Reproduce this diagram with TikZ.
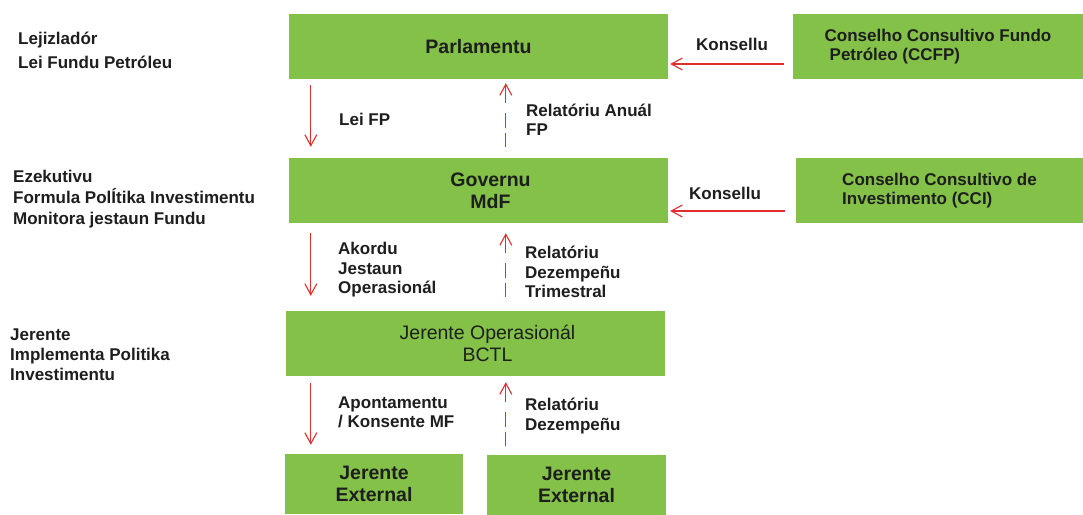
\documentclass[tikz,border=0pt]{standalone}
\usepackage{fontspec}
\setmainfont{Liberation Sans}
\usetikzlibrary{arrows.meta}
\definecolor{boxgreen}{RGB}{131,193,72}
\definecolor{arrred}{RGB}{226,45,45}
\definecolor{txt}{RGB}{30,30,30}
\begin{document}
\begin{tikzpicture}[x=1pt,y=-1pt,
 box/.style={fill=boxgreen,draw=none,inner sep=0pt,align=center,text=txt,font=\fontsize{19.5}{22}\selectfont\bfseries},
 sidebox/.style={box,align=left,font=\fontsize{17}{19.5}\selectfont\bfseries},
 lbl/.style={inner sep=0pt,align=left,anchor=west,text=txt,font=\fontsize{17}{19.5}\selectfont\bfseries},
 arr/.style={draw=arrred,line width=1.1pt,-{Straight Barb[length=11pt,width=12pt,line width=1.1pt]}},
 darr/.style={arr,dash pattern=on 14pt off 5pt on 15pt off 10pt on 40pt}]
\useasboundingbox (0,0) rectangle (1083,514);
\fill[white] (0,0) rectangle (1083,514);

% boxes
\node[box,minimum width=379pt,minimum height=65pt] (parl) at (478.5,46.5) {Parlamentu};
\node[box,minimum width=379pt,minimum height=65pt] (gov) at (478.5,190.5) {\hspace*{24pt}Governu\\\hspace*{24pt}MdF};
\node[box,minimum width=379pt,minimum height=65pt,font=\fontsize{19.5}{22}\selectfont\mdseries] (jop) at (475.5,343.5) {\hspace*{24pt}Jerente Operasionál\\\hspace*{24pt}BCTL};
\node[box,minimum width=178pt,minimum height=60pt] (ext1) at (374,484) {Jerente\\External};
\node[box,minimum width=179pt,minimum height=60pt] (ext2) at (576.5,484.5) {Jerente\\External};
\node[sidebox,minimum width=290pt,minimum height=65pt] (ccfp) at (938,46.5) {Conselho Consultivo Fundo\\\hspace*{5pt}Petróleo (CCFP)};
\node[sidebox,minimum width=287pt,minimum height=65pt] (cci) at (939.5,190.5) {Conselho Consultivo de\\Investimento (CCI)};

% left labels
\node[lbl,font=\fontsize{17}{24}\selectfont\bfseries] (l1) at (18,50) {Lejizladór\\Lei Fundu Petróleu};
\node[lbl,font=\fontsize{17}{21}\selectfont\bfseries] (l2) at (13,199) {Ezekutivu\\Formula PolÍtika Investimentu\\Monitora jestaun Fundu};
\node[lbl,font=\fontsize{17}{20}\selectfont\bfseries] (l3) at (10,355) {Jerente\\Implementa Politika\\Investimentu};

% horizontal arrows
\draw[arr] ([xshift=-9pt,yshift=-17.5pt]ccfp.west) -- ([xshift=2pt,yshift=-17.5pt]parl.east);
\node[lbl,anchor=center] (k1) at (732,44) {Konsellu};
\draw[arr] ([xshift=-11pt,yshift=-20.5pt]cci.west) -- ([xshift=2pt,yshift=-20.5pt]gov.east);
\node[lbl,anchor=center] (k2) at (725,193) {Konsellu};

% row 1
\draw[arr] ([xshift=22pt,yshift=-6pt]parl.south west) -- ([xshift=22pt,yshift=11pt]gov.north west);
\draw[darr] ([xshift=217pt,yshift=11pt]gov.north west) -- ([xshift=217pt,yshift=-4pt]parl.south west);
\node[lbl] (t1) at (339,119) {Lei FP};
\node[lbl] (t2) at (526,120) {Relatóriu Anuál\\FP};

% row 2
\draw[arr] ([xshift=22pt,yshift=-10pt]gov.south west) -- ([xshift=25pt,yshift=15pt]jop.north west);
\draw[darr] ([xshift=220pt,yshift=14pt]jop.north west) -- ([xshift=217pt,yshift=-10pt]gov.south west);
\node[lbl] (t3) at (338,270) {Akordu\\Jestaun\\Operasionál};
\node[lbl] (t4) at (525,272) {Relatóriu\\Dezempeñu\\Trimestral};

% row 3
\draw[arr] ([xshift=25pt,yshift=-7pt]jop.south west) -- ([xshift=26pt,yshift=9pt]ext1.north west);
\draw[darr] ([xshift=19pt,yshift=8pt]ext2.north west) -- ([xshift=220pt,yshift=-6pt]jop.south west);
\node[lbl] (t5) at (338,412.5) {Apontamentu\\/ Konsente MF};
\node[lbl] (t6) at (525,416) {Relatóriu\\Dezempeñu};
\end{tikzpicture}
\end{document}
